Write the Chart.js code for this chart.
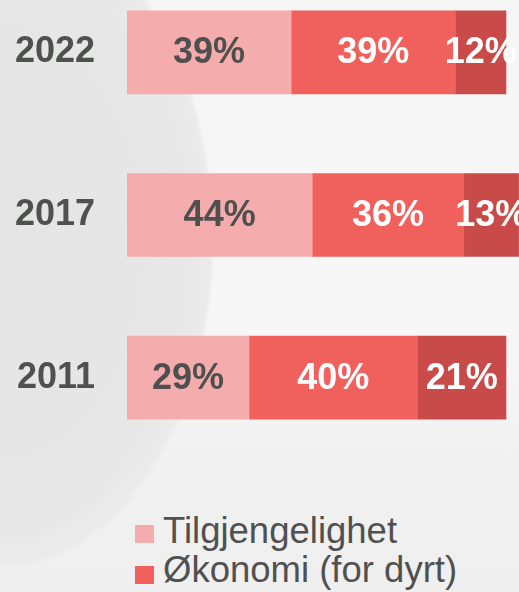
<!DOCTYPE html>
<html>
<head>
<meta charset="utf-8">
<script src="https://cdn.jsdelivr.net/npm/chart.js@4/dist/chart.umd.min.js"></script>
<style>
html,body{margin:0;padding:0;width:519px;height:592px;overflow:hidden;}
body{
  position:relative;
  font-family:"Liberation Sans",Arial,sans-serif;
  background:
    radial-gradient(ellipse 215px 330px at 0px 240px, #e4e4e4 0%, #e7e7e7 85%, #ebebeb 98%, rgba(246,246,246,0) 100%),
    linear-gradient(180deg, #f6f6f6 0%, #f7f7f7 60%, #f1f1f1 78%, #efefef 100%);
}
#wrap{position:absolute;left:0;top:-29px;width:519px;height:488px;}
.lg-box{position:absolute;left:135px;width:19px;height:18px;}
.lg-txt{position:absolute;left:163px;font-size:36.5px;line-height:41px;color:#505050;white-space:nowrap;}
</style>
</head>
<body>
<div id="wrap"><canvas id="c" width="519" height="488"></canvas></div>
<div id="legend"></div>
<script>
const categories = ['2022', '2017', '2011'];
const seriesNames = ['Tilgjengelighet', 'Økonomi (for dyrt)', 'Annet'];
const tilgjengelighet = [39, 44, 29];
const okonomi = [39, 36, 40];
const tredje = [12, 13, 21];
const seriesColors = ['#F4ADAC', '#F0605D', '#C84B4A'];
const labelColors = ['#4F4F4F', '#FFFFFF', '#FFFFFF'];
const legendShown = 2;

const seriesValues = [tilgjengelighet, okonomi, tredje];

const labelPlugin = {
  id: 'segLabels',
  afterDatasetsDraw(chart) {
    const ctx = chart.ctx;
    ctx.save();
    ctx.font = 'bold 36px "Liberation Sans", Arial, sans-serif';
    ctx.textAlign = 'center';
    ctx.textBaseline = 'middle';
    chart.data.datasets.forEach((ds, di) => {
      const meta = chart.getDatasetMeta(di);
      meta.data.forEach((el, i) => {
        const cx = (el.x + el.base) / 2;
        ctx.fillStyle = labelColors[di];
        ctx.fillText(ds.data[i] + '%', cx, el.y + 1);
      });
    });
    ctx.restore();
  }
};

new Chart(document.getElementById('c'), {
  type: 'bar',
  data: {
    labels: categories,
    datasets: seriesValues.map((vals, i) => ({
      label: seriesNames[i],
      data: vals,
      backgroundColor: seriesColors[i],
      borderWidth: 0,
      barThickness: 83
    }))
  },
  options: {
    indexAxis: 'y',
    responsive: false,
    animation: false,
    devicePixelRatio: 1,
    layout: { padding: 0 },
    plugins: { legend: { display: false }, tooltip: { enabled: false } },
    scales: {
      x: { stacked: true, min: 0, max: 93.1, display: false },
      y: {
        stacked: true,
        grid: { display: false, drawTicks: false },
        border: { display: false },
        ticks: {
          padding: 32,
          color: '#4F514F',
          font: { family: '"Liberation Sans", Arial, sans-serif', size: 36, weight: 'bold' }
        },
        afterFit(scale) {
          scale.width = 127;
          scale.paddingTop = 0;
          scale.paddingBottom = 0;
        }
      }
    }
  },
  plugins: [labelPlugin]
});

const legend = document.getElementById('legend');
for (let i = 0; i < legendShown; i++) {
  const box = document.createElement('div');
  box.className = 'lg-box';
  box.style.top = (525 + 41 * i) + 'px';
  box.style.background = seriesColors[i];
  const txt = document.createElement('div');
  txt.className = 'lg-txt';
  txt.style.top = (510 + 39 * i) + 'px';
  txt.textContent = seriesNames[i];
  legend.appendChild(box);
  legend.appendChild(txt);
}
</script>
</body>
</html>
